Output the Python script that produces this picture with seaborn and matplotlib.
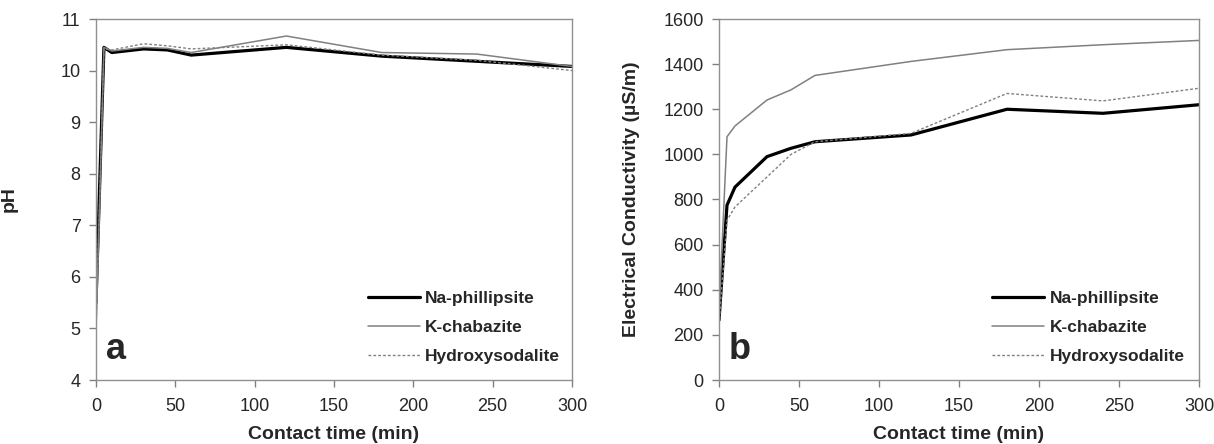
import numpy as np
import pandas as pd
import matplotlib
matplotlib.use("Agg")
import matplotlib.pyplot as plt
import seaborn as sns

# ---- data ----
time_min = [0, 5, 10, 30, 45, 60, 120, 180, 240, 300]
series_names = ["Na-phillipsite", "K-chabazite", "Hydroxysodalite"]

ph_na = [5.5, 10.45, 10.35, 10.42, 10.40, 10.30, 10.45, 10.28, 10.18, 10.08]
ph_k = [4.9, 10.45, 10.38, 10.45, 10.43, 10.35, 10.67, 10.35, 10.32, 10.08]
ph_hs = [5.0, 10.42, 10.40, 10.52, 10.48, 10.42, 10.50, 10.30, 10.20, 10.00]

ec_na = [265, 775, 855, 990, 1027, 1056, 1086, 1200, 1182, 1220]
ec_k = [300, 1078, 1126, 1241, 1286, 1350, 1412, 1464, 1486, 1505]
ec_hs = [250, 708, 767, 900, 1000, 1056, 1093, 1270, 1237, 1293]

x_ticks = [0, 50, 100, 150, 200, 250, 300]
ph_ticks = [4, 5, 6, 7, 8, 9, 10, 11]
ec_ticks = [0, 200, 400, 600, 800, 1000, 1200, 1400, 1600]

sns.set_theme(style="white")
plt.rcParams["font.family"] = ["Liberation Sans", "DejaVu Sans"]

styles = {
    "Na-phillipsite": dict(color="black", linewidth=2.3, linestyle="-"),
    "K-chabazite": dict(color="#808080", linewidth=1.1, linestyle="-"),
    "Hydroxysodalite": dict(color="#808080", linewidth=1.0, linestyle=(0, (2, 1.5))),
}

W, H = 1214, 444
fig = plt.figure(figsize=(W / 100, H / 100), dpi=100)
axA = fig.add_axes([96 / W, 1 - 380 / H, (572 - 96) / W, 361 / H])
axB = fig.add_axes([719 / W, 1 - 380 / H, (1199 - 719) / W, 361 / H])


def draw(ax, vals_list, yticks, ylabel, letter, leg_x):
    df = pd.DataFrame({"t": time_min * 3,
                       "v": sum(vals_list, []),
                       "s": sum([[n] * len(time_min) for n in series_names], [])})
    for n in series_names:
        sub = df[df["s"] == n]
        sns.lineplot(data=sub, x="t", y="v", ax=ax, label=n, **styles[n])
    ax.set_xlim(0, 300)
    ax.set_ylim(yticks[0], yticks[-1])
    ax.set_xticks(x_ticks)
    ax.set_yticks(yticks)
    ax.tick_params(axis="both", which="both", direction="out", length=5, width=1,
                   color="#808080", labelsize=13, bottom=True, left=True)
    ax.tick_params(axis="x", pad=8)
    ax.tick_params(axis="y", pad=6)
    for sp in ax.spines.values():
        sp.set_color("#909090")
        sp.set_linewidth(1)
    ax.set_xlabel("Contact time (min)", fontsize=14, fontweight="bold", labelpad=8)
    ax.set_ylabel(ylabel, fontsize=14, fontweight="bold")
    ax.text(0.02, 0.035, letter, transform=ax.transAxes, fontsize=26,
            fontweight="bold", ha="left", va="bottom")
    ax.legend(loc="lower right", frameon=False, handlelength=3.0,
              handletextpad=0.3, labelspacing=0.78, borderpad=0,
              borderaxespad=0, prop={"weight": "bold", "size": 12.5},
              bbox_to_anchor=(leg_x, 0.045))


draw(axA, [ph_na, ph_k, ph_hs], ph_ticks, "pH", "a", 0.975)
axA.yaxis.set_label_coords(-0.165, 0.5)
draw(axB, [ec_na, ec_k, ec_hs], ec_ticks, "Electrical Conductivity (µS/m)", "b", 0.97)
axB.yaxis.set_label_coords(-0.165, 0.5)

fig.savefig("out.png", dpi=100)
